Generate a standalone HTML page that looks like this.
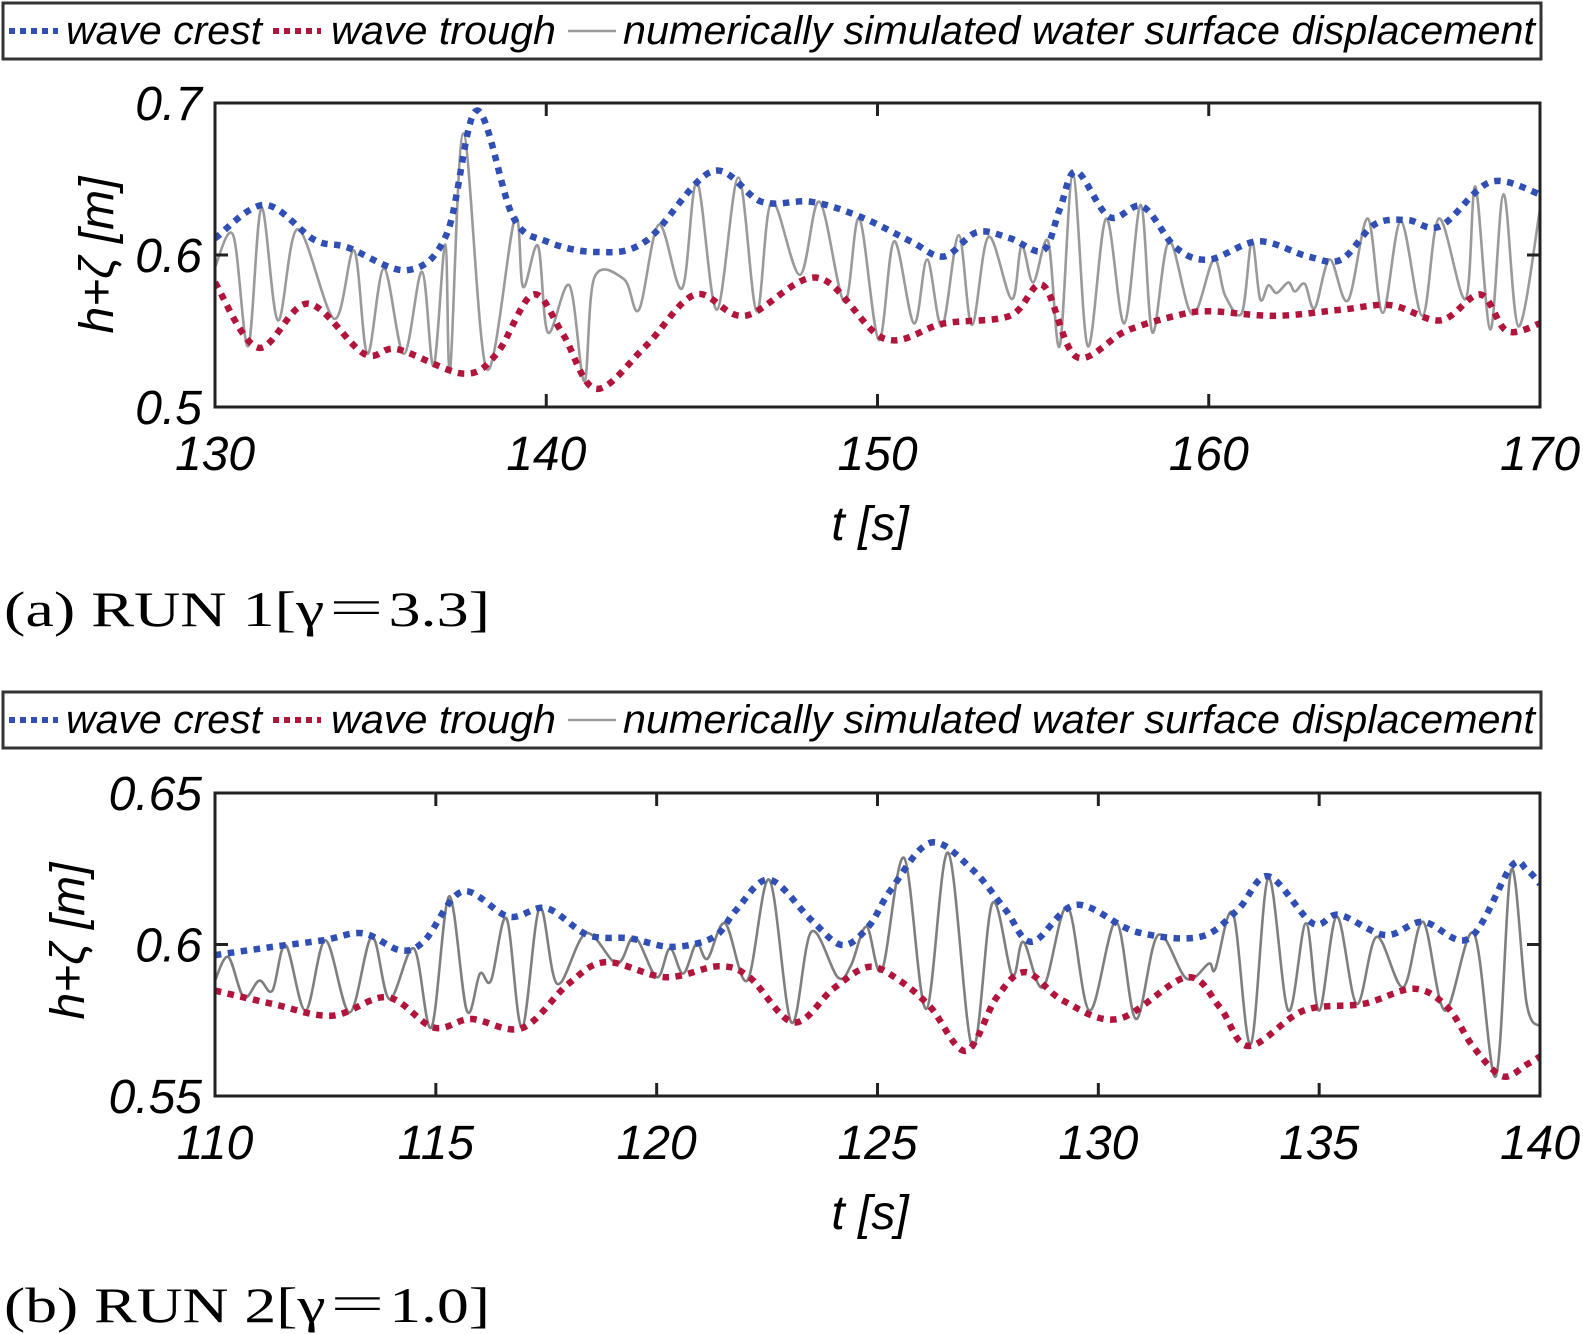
<!DOCTYPE html>
<html><head><meta charset="utf-8"><style>
html,body{margin:0;padding:0;background:#fff;}
svg{display:block;}
text{font-family:"Liberation Sans",sans-serif;}
</style></head><body>
<svg id="fig" width="1583" height="1334" viewBox="0 0 1583 1334" xmlns="http://www.w3.org/2000/svg"></svg>
<script>
// ---------- Panel (a) data: RUN 1 ----------
const aXTicks = [130, 140, 150, 160, 170];
const aYTicks = [0.5, 0.6, 0.7];
const aYTickLabels = ["0.5", "0.6", "0.7"];
const aCrestT = [130,131.5,133,134,135.8,137,137.9,139,140,141.5,143,145,146.5,148,149.5,151,152,153,154,155,155.5,156,157,158,159,160,161.5,163,164,165,166,167,168.5,170];
const aCrestV = [0.611,0.633,0.61,0.605,0.59,0.614,0.695,0.625,0.609,0.602,0.609,0.655,0.635,0.635,0.625,0.609,0.599,0.615,0.611,0.603,0.63,0.655,0.625,0.632,0.605,0.597,0.609,0.599,0.597,0.62,0.623,0.619,0.648,0.64];
const aTroughT = [130,131.3,132.8,134.5,135.5,137.5,138.5,139.6,140.5,141.5,143,144.5,146,148.2,150.2,152,154,155,156,157.5,159,160,162,164,165.5,167,168.2,169,170];
const aTroughV = [0.582,0.539,0.568,0.535,0.538,0.522,0.535,0.574,0.548,0.512,0.54,0.574,0.56,0.585,0.545,0.555,0.56,0.58,0.533,0.55,0.56,0.563,0.56,0.564,0.567,0.557,0.574,0.55,0.555];
const aSimT = [130,130.55,131.0,131.4,131.9,132.5,133.6,134.2,134.6,135.1,135.7,136.25,136.6,136.95,137.1,137.5,138.2,139.05,139.3,139.75,140.05,140.7,141.15,141.45,142.35,142.8,143.4,144.1,144.55,145.15,145.8,146.35,146.8,147.65,148.25,149.0,149.45,150.04,150.5,151.1,151.5,151.95,152.45,152.85,153.35,154.05,154.35,154.7,155.15,155.5,155.9,156.35,156.9,157.45,157.95,158.3,158.8,159.5,160.15,160.5,161.0,161.3,161.55,161.8,162.05,162.4,162.6,162.9,163.2,163.65,164.2,164.8,165.25,165.8,166.45,166.95,167.75,168.05,168.5,168.9,169.35,170];
const aSimV = [0.592,0.613,0.54,0.631,0.557,0.617,0.558,0.603,0.535,0.591,0.535,0.589,0.527,0.607,0.525,0.68,0.525,0.624,0.579,0.606,0.549,0.58,0.517,0.585,0.584,0.564,0.62,0.578,0.648,0.564,0.651,0.563,0.635,0.587,0.635,0.569,0.624,0.544,0.609,0.555,0.597,0.553,0.613,0.554,0.612,0.571,0.606,0.582,0.609,0.54,0.653,0.54,0.624,0.555,0.633,0.549,0.609,0.561,0.597,0.573,0.562,0.609,0.571,0.58,0.575,0.582,0.576,0.581,0.565,0.597,0.57,0.624,0.562,0.622,0.56,0.624,0.571,0.645,0.551,0.64,0.553,0.63];

// ---------- Panel (b) data: RUN 2 ----------
const bXTicks = [110, 115, 120, 125, 130, 135, 140];
const bYTicks = [0.55, 0.6, 0.65];
const bYTickLabels = ["0.55", "0.6", "0.65"];
const bCrestT = [110,111.3,112.45,113.35,114.2,114.75,115.6,116.65,117.5,118.45,119.4,120.35,121.3,121.8,122.55,123.5,124.2,124.8,125.3,126.2,127.15,127.9,128.5,129.5,130.85,132.3,133.15,133.85,134.85,135.45,136.5,137.35,138.4,139.35,139.7,140];
const bCrestV = [0.5965,0.5992,0.6014,0.6037,0.5981,0.6014,0.6175,0.6092,0.612,0.6031,0.602,0.5992,0.6025,0.6114,0.6214,0.6081,0.5998,0.606,0.618,0.6336,0.6247,0.6114,0.6009,0.6131,0.6042,0.6025,0.6114,0.6225,0.607,0.6098,0.6031,0.6075,0.602,0.6258,0.6247,0.62];
const bTroughT = [110,111.3,112.65,113.9,114.95,115.8,116.95,118.0,118.85,120.2,121.4,122.1,123.1,124.0,124.8,125.5,126.2,127.0,127.7,128.35,129.2,130.45,132.0,132.75,133.4,134.65,136.0,137.15,137.9,138.5,139.15,139.7,140];
const bTroughV = [0.5848,0.5804,0.5765,0.5826,0.5726,0.5754,0.5724,0.587,0.5942,0.5892,0.5928,0.5892,0.5743,0.5854,0.5926,0.5881,0.5793,0.5649,0.5826,0.5909,0.5815,0.5754,0.5892,0.5793,0.5665,0.5782,0.5804,0.5854,0.5793,0.566,0.5565,0.5604,0.563];
const bSimT = [110,110.3,110.65,111.0,111.3,111.6,112.05,112.5,113.05,113.55,113.95,114.5,114.9,115.3,115.7,116.0,116.25,116.6,116.95,117.35,117.75,118.4,119.1,119.5,120.0,120.3,120.6,120.9,121.15,121.55,122.05,122.55,123.05,123.5,124.1,124.4,124.75,125.1,125.6,126.1,126.6,127.15,127.6,128.05,128.3,128.75,129.3,129.8,130.4,130.85,131.35,132.0,132.5,132.65,133.05,133.45,133.85,134.3,134.7,135.0,135.4,135.85,136.3,136.9,137.35,137.85,138.5,139.0,139.35,139.7,140];
const bSimV = [0.5881,0.5959,0.5826,0.5881,0.5848,0.5998,0.5782,0.6014,0.5776,0.6025,0.582,0.5987,0.5726,0.6159,0.5782,0.5904,0.5881,0.6086,0.5726,0.612,0.587,0.6037,0.5937,0.6025,0.5892,0.5987,0.5904,0.6003,0.5953,0.607,0.5881,0.6214,0.5743,0.6042,0.5892,0.5931,0.6059,0.5915,0.6286,0.5787,0.6303,0.566,0.6136,0.5898,0.6009,0.5859,0.6125,0.5782,0.6075,0.5754,0.6031,0.5887,0.5937,0.592,0.6103,0.5671,0.622,0.5782,0.607,0.5782,0.6092,0.5804,0.6025,0.5859,0.6075,0.5782,0.6037,0.5565,0.6247,0.5804,0.573];

const NS = "http://www.w3.org/2000/svg";
const svg = document.getElementById('fig');
const BLUE = "#2f4fb5", RED = "#b3143c", GRAY = "#9a9a9a", GRAYB = "#7f7f7f";

function mk(tag, attrs, parent) {
  const e = document.createElementNS(NS, tag);
  for (const k in attrs) e.setAttribute(k, attrs[k]);
  (parent || svg).appendChild(e);
  return e;
}
function smoothPath(pts) {
  let d = "M" + pts[0][0].toFixed(1) + "," + pts[0][1].toFixed(1);
  for (let i = 0; i < pts.length - 1; i++) {
    const p0 = pts[Math.max(0, i - 1)], p1 = pts[i], p2 = pts[i + 1], p3 = pts[Math.min(pts.length - 1, i + 2)];
    const c1x = p1[0] + (p2[0] - p0[0]) / 6, c1y = p1[1] + (p2[1] - p0[1]) / 6;
    const c2x = p2[0] - (p3[0] - p1[0]) / 6, c2y = p2[1] - (p3[1] - p1[1]) / 6;
    d += " C" + c1x.toFixed(1) + "," + c1y.toFixed(1) + " " + c2x.toFixed(1) + "," + c2y.toFixed(1) + " " + p2[0].toFixed(1) + "," + p2[1].toFixed(1);
  }
  return d;
}

function legend(y0, prefix) {
  const g = mk('g', {});
  
  
  const box = mk('rect', {x: 3, y: y0, width: 1538, height: 56, fill: '#fff', stroke: '#333', 'stroke-width': 3}, g);
  
  
  const cy = y0 + 28, by = y0 + 41;
  const l1 = mk('line', {x1: 9, y1: cy, x2: 58, y2: cy, stroke: BLUE, 'stroke-width': 6, 'stroke-dasharray': '6 5'}, g);
  
  
  const t1 = mk('text', {x: 66, y: by, 'font-size': 40, 'font-style': 'italic', textLength: 196, lengthAdjust: 'spacingAndGlyphs'}, g);
  t1.textContent = "wave crest";
  
  
  const l2 = mk('line', {x1: 273, y1: cy, x2: 321, y2: cy, stroke: RED, 'stroke-width': 6, 'stroke-dasharray': '6 5'}, g);
  
  
  const t2 = mk('text', {x: 331, y: by, 'font-size': 40, 'font-style': 'italic', textLength: 225, lengthAdjust: 'spacingAndGlyphs'}, g);
  t2.textContent = "wave trough";
  
  
  const l3 = mk('line', {x1: 568, y1: cy, x2: 616, y2: cy, stroke: GRAY, 'stroke-width': 2.5}, g);
  
  
  const t3 = mk('text', {x: 623, y: by, 'font-size': 40, 'font-style': 'italic', textLength: 912, lengthAdjust: 'spacingAndGlyphs'}, g);
  t3.textContent = "numerically simulated water surface displacement";
  
  
}

function panel(o) {
  const L = 215, R = 1540, T = o.top, B = o.bottom;
  const xs = t => L + (t - o.xmin) / (o.xmax - o.xmin) * (R - L);
  const ys = v => B - (v - o.ymin) / (o.ymax - o.ymin) * (B - T);
  const g = mk('g', {});
  
  
  const clipId = o.p + '-clip';
  const cp = mk('clipPath', {id: clipId}, g);
  mk('rect', {x: L, y: T - 10, width: R - L, height: B - T + 20}, cp);

  const sim = mk('path', {d: smoothPath(o.simT.map((t, i) => [xs(t), ys(o.simV[i])])), fill: 'none', stroke: o.gray, 'stroke-width': 2.6, 'clip-path': 'url(#' + clipId + ')'}, g);
  
  
  const cr = mk('path', {d: smoothPath(o.crestT.map((t, i) => [xs(t), ys(o.crestV[i])])), fill: 'none', stroke: BLUE, 'stroke-width': 6.5, 'stroke-dasharray': '6.5 6.5', 'clip-path': 'url(#' + clipId + ')'}, g);
  
  
  const tr = mk('path', {d: smoothPath(o.troughT.map((t, i) => [xs(t), ys(o.troughV[i])])), fill: 'none', stroke: RED, 'stroke-width': 6.5, 'stroke-dasharray': '6.5 6.5', 'clip-path': 'url(#' + clipId + ')'}, g);
  
  

  const frame = mk('rect', {x: L, y: T, width: R - L, height: B - T, fill: 'none', stroke: '#222', 'stroke-width': 3}, g);
  
  

  o.xticks.forEach(t => {
    const x = xs(t);
    const tk = mk('path', {d: `M${x},${B} v-13 M${x},${T} v13`, stroke: '#222', 'stroke-width': 3}, g);
    
    
    const lb = mk('text', {x: x, y: B + 63, 'font-size': 48, 'font-style': 'italic', 'text-anchor': 'middle'}, g);
    lb.textContent = String(t);
    
    
  });
  o.yticks.forEach((v, i) => {
    const y = ys(v);
    const tk = mk('path', {d: `M${L},${y} h13 M${R},${y} h-13`, stroke: '#222', 'stroke-width': 3}, g);
    
    
    const lb = mk('text', {x: 202, y: y + 17, 'font-size': 48, 'font-style': 'italic', 'text-anchor': 'end'}, g);
    lb.textContent = o.ylabels[i];
    
    
  });
  const yt = mk('text', {x: 0, y: 0, 'font-size': 48, 'font-style': 'italic', 'text-anchor': 'middle', transform: `translate(${o.ylx},${o.yly}) rotate(-90)`}, g);
  yt.textContent = "h+ζ [m]";
  
  
  const xt = mk('text', {x: 870, y: B + 133, 'font-size': 48, 'font-style': 'italic', 'text-anchor': 'middle'}, g);
  xt.textContent = "t [s]";
  
  
  const cap = mk('text', {x: 4, y: o.capY, 'font-size': 50, textLength: 486, lengthAdjust: 'spacingAndGlyphs', style: 'font-family:"Liberation Serif","Noto Serif CJK SC",serif'}, g);
  cap.textContent = o.caption;
  
  
}

legend(3, 'run1');
panel({p: 'run1', top: 103, bottom: 407, xmin: 130, xmax: 170, ymin: 0.5, ymax: 0.7,
  xticks: aXTicks, yticks: aYTicks, ylabels: aYTickLabels,
  crestT: aCrestT, crestV: aCrestV, troughT: aTroughT, troughV: aTroughV, simT: aSimT, simV: aSimV,
  gray: GRAY, ylx: 113, yly: 255, capY: 626, caption: "(a) RUN 1[γ＝3.3]"});
legend(692, 'run2');
panel({p: 'run2', top: 793, bottom: 1096, xmin: 110, xmax: 140, ymin: 0.55, ymax: 0.65,
  xticks: bXTicks, yticks: bYTicks, ylabels: bYTickLabels,
  crestT: bCrestT, crestV: bCrestV, troughT: bTroughT, troughV: bTroughV, simT: bSimT, simV: bSimV,
  gray: GRAYB, ylx: 84, yly: 941, capY: 1322, caption: "(b) RUN 2[γ＝1.0]"});
</script>
</body></html>
